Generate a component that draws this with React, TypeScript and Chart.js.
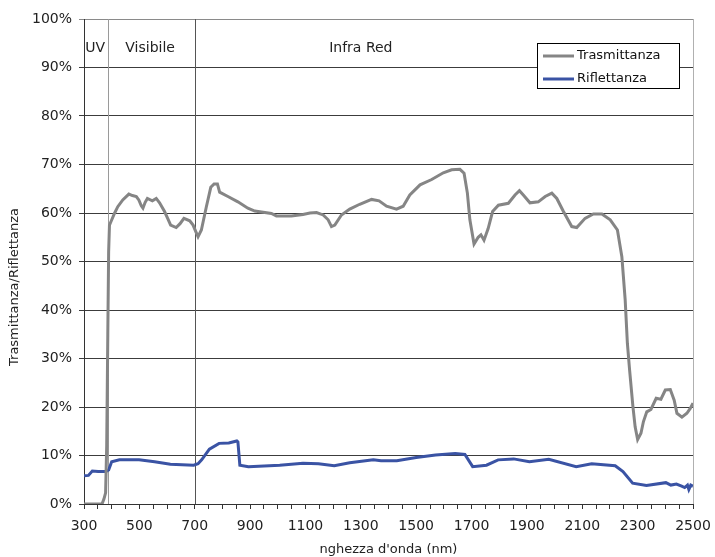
import React, { useEffect, useRef } from "react";
import { Chart, registerables } from "chart.js";

Chart.register(...registerables);

// Wavelength (nm) and transmittance (%)
const wavelengthT = [
  300, 365, 372, 378, 382, 386, 389, 392, 398, 410, 422, 440, 462, 475, 489, 498, 507, 513, 521, 529,
  547, 561, 573, 591, 603, 613, 633, 647, 661, 682, 694, 705, 712, 724, 742, 758, 770, 782, 790, 820,
  856, 892, 917, 977, 995, 1049, 1091, 1116, 1140, 1164, 1182, 1194, 1206, 1230, 1260, 1296, 1339, 1366,
  1393, 1429, 1453, 1477, 1514, 1556, 1598, 1628, 1658, 1673, 1685, 1694, 1709, 1724, 1734, 1745, 1760,
  1776, 1797, 1833, 1857, 1873, 1887, 1911, 1941, 1966, 1990, 2008, 2032, 2062, 2080, 2110, 2140, 2171,
  2201, 2227, 2243, 2255, 2263, 2271, 2283, 2291, 2300, 2312, 2321, 2333, 2348, 2367, 2384, 2400, 2418,
  2432, 2442, 2460, 2478, 2490, 2500,
];
const trasmittanza = [
  0, 0, 1, 2.3, 12, 35, 52, 57.5, 58.3, 59.9, 61.3, 62.7, 63.9, 63.6, 63.4, 62.7, 61.5, 61.0, 62.2, 63.0,
  62.5, 63.0, 62.1, 60.3, 58.8, 57.5, 57.0, 57.8, 58.9, 58.4, 57.5, 56.0, 55.1, 56.5, 61.3, 65.3, 66.0, 66.0, 64.3, 63.4,
  62.3, 61.0, 60.4, 59.9, 59.4, 59.4, 59.7, 60.0, 60.1, 59.6, 58.6, 57.2, 57.5, 59.6, 60.8, 61.8, 62.8, 62.5,
  61.4, 60.8, 61.4, 63.7, 65.8, 66.9, 68.3, 68.9, 69.0, 68.2, 64.1, 58.6, 53.6, 55.0, 55.5, 54.4, 56.8,
  60.3, 61.6, 62.0, 63.7, 64.6, 63.7, 62.1, 62.3, 63.4, 64.1, 63.0, 60.3, 57.2, 57.0, 58.9, 59.8, 59.8,
  58.6, 56.5, 51.0, 42.1, 33.1, 27.6, 20.1, 15.9, 13.3, 14.6, 17.0, 19.0, 19.5, 21.8, 21.6, 23.5, 23.6,
  21.4, 18.7, 17.9, 18.7, 19.7, 20.8,
];

// Wavelength (nm) and reflectance (%)
const wavelengthR = [
  300, 316, 330, 351, 379, 389, 400, 428, 499, 555, 612, 696, 712, 725, 753, 788, 823, 852, 856, 863,
  894, 1007, 1091, 1147, 1204, 1260, 1345, 1373, 1430, 1500, 1570, 1641, 1676, 1704, 1754, 1796, 1852,
  1909, 1979, 2078, 2134, 2219, 2247, 2282, 2332, 2402, 2420, 2440, 2459, 2470, 2480, 2485, 2492, 2500,
];
const riflettanza = [
  5.8, 5.9, 6.8, 6.7, 6.7, 7.0, 8.7, 9.1, 9.1, 8.7, 8.2, 8.0, 8.3, 9.1, 11.3, 12.5, 12.6, 13.0, 12.8, 8.0,
  7.7, 8.0, 8.4, 8.3, 7.9, 8.5, 9.1, 8.9, 8.9, 9.6, 10.1, 10.4, 10.2, 7.7, 8.0, 9.1, 9.3,
  8.7, 9.2, 7.7, 8.3, 7.9, 6.7, 4.3, 3.8, 4.4, 3.9, 4.1, 3.7, 3.4, 3.9, 3.0, 3.9, 3.7,
];

const yTicks = [0, 10, 20, 30, 40, 50, 60, 70, 80, 90, 100];
const xLabels = [300, 500, 700, 900, 1100, 1300, 1500, 1700, 1900, 2100, 2300, 2500];
const regionBounds = [385, 700];
const regionLabels = [
  { text: "UV", nm: 340 },
  { text: "Visibile", nm: 539 },
  { text: "Infra Red", nm: 1300 },
];
const seriesNames = ["Trasmittanza", "Riflettanza"];
const seriesColors = ["#858585", "#3a53a4"];

const FONT = "'DejaVu Sans', Verdana, sans-serif";

export default function App() {
  const ref = useRef<HTMLCanvasElement | null>(null);

  useEffect(() => {
    if (!ref.current) return;

    const overlay = {
      id: "overlay",
      beforeDatasetsDraw(chart: any) {
        const { ctx, chartArea } = chart;
        const xs = chart.scales.x;
        ctx.save();
        regionBounds.forEach((nm, i) => {
          const px = Math.round(xs.getPixelForValue(nm)) + 0.5;
          ctx.strokeStyle = i === 0 ? "#9a9a9a" : "#555555";
          ctx.lineWidth = 1;
          ctx.beginPath();
          ctx.moveTo(px, chartArea.top);
          ctx.lineTo(px, chartArea.bottom);
          ctx.stroke();
        });
        // right border
        ctx.strokeStyle = "#b0b0b0";
        ctx.beginPath();
        ctx.moveTo(Math.round(chartArea.right) + 0.5, chartArea.top);
        ctx.lineTo(Math.round(chartArea.right) + 0.5, chartArea.bottom);
        ctx.stroke();
        ctx.restore();
      },
      afterDraw(chart: any) {
        const { ctx, chartArea } = chart;
        const xs = chart.scales.x;
        ctx.save();
        ctx.fillStyle = "#222";
        ctx.font = `14px ${FONT}`;
        ctx.textAlign = "center";
        ctx.textBaseline = "middle";
        regionLabels.forEach((r) => {
          ctx.fillText(r.text, xs.getPixelForValue(r.nm), 48);
        });

        // legend
        const lx = 537.5, ly = 43.5, lw = 142, lh = 45;
        ctx.fillStyle = "#ffffff";
        ctx.fillRect(lx, ly, lw, lh);
        ctx.strokeStyle = "#000";
        ctx.lineWidth = 1;
        ctx.strokeRect(lx, ly, lw, lh);
        ctx.font = `13px ${FONT}`;
        ctx.textAlign = "left";
        seriesNames.forEach((name, i) => {
          const y = 56 + i * 23;
          ctx.strokeStyle = seriesColors[i];
          ctx.lineWidth = 3;
          ctx.beginPath();
          ctx.moveTo(543, y);
          ctx.lineTo(574, y);
          ctx.stroke();
          ctx.fillStyle = "#111";
          ctx.fillText(name, 577, y);
        });

        // axis titles
        ctx.fillStyle = "#222";
        ctx.font = `13px ${FONT}`;
        ctx.textAlign = "center";
        ctx.fillText("nghezza d'onda (nm)", (chartArea.left + chartArea.right) / 2, 550);
        ctx.save();
        ctx.translate(15, 287);
        ctx.rotate(-Math.PI / 2);
        ctx.fillText("Trasmittanza/Riflettanza", 0, 0);
        ctx.restore();
        ctx.restore();
      },
    };

    const chart = new Chart(ref.current, {
      type: "line",
      data: {
        datasets: [
          {
            label: seriesNames[0],
            data: wavelengthT.map((x, i) => ({ x, y: trasmittanza[i] })),
            borderColor: seriesColors[0],
            borderWidth: 3,
            pointRadius: 0,
            tension: 0,
          },
          {
            label: seriesNames[1],
            data: wavelengthR.map((x, i) => ({ x, y: riflettanza[i] })),
            borderColor: seriesColors[1],
            borderWidth: 3,
            pointRadius: 0,
            tension: 0,
          },
        ],
      },
      options: {
        responsive: false,
        animation: false,
        layout: { padding: { left: 0, right: 22, top: 19, bottom: 0 } },
        plugins: { legend: { display: false }, tooltip: { enabled: false } },
        scales: {
          x: {
            type: "linear",
            min: 300,
            max: 2500,
            afterBuildTicks(axis: any) {
              const t = [];
              for (let v = 300; v <= 2500; v += 50) t.push({ value: v });
              axis.ticks = t;
            },
            afterFit(axis: any) {
              axis.height = 53;
              axis.paddingLeft = 0;
              axis.paddingRight = 0;
            },
            ticks: {
              autoSkip: false,
              maxRotation: 0,
              padding: 9,
              color: "#222",
              font: { family: FONT, size: 14 },
              callback: (v: any) => (xLabels.includes(Number(v)) ? String(v) : ""),
            },
            grid: { drawOnChartArea: false, tickLength: 5, color: "#333" },
            border: { color: "#333" },
          },
          y: {
            min: 0,
            max: 100,
            afterBuildTicks(axis: any) {
              axis.ticks = yTicks.map((v) => ({ value: v }));
            },
            afterFit(axis: any) {
              axis.width = 84;
              axis.paddingTop = 0;
              axis.paddingBottom = 0;
            },
            ticks: {
              padding: 7,
              color: "#222",
              font: { family: FONT, size: 14 },
              callback: (v: any) => `${v}%`,
            },
            grid: {
              tickLength: 5,
              color: (c: any) => (c.tick && c.tick.value === 100 ? "#8a8a8a" : "#3c3c3c"),
            },
            border: { color: "#333" },
          },
        },
      },
      plugins: [overlay],
    });

    return () => chart.destroy();
  }, []);

  return (
    <div style={{ position: "fixed", left: 0, top: 0, width: 715, height: 557, background: "#fff" }}>
      <canvas ref={ref} width={715} height={557} style={{ width: 715, height: 557 }} />
    </div>
  );
}
